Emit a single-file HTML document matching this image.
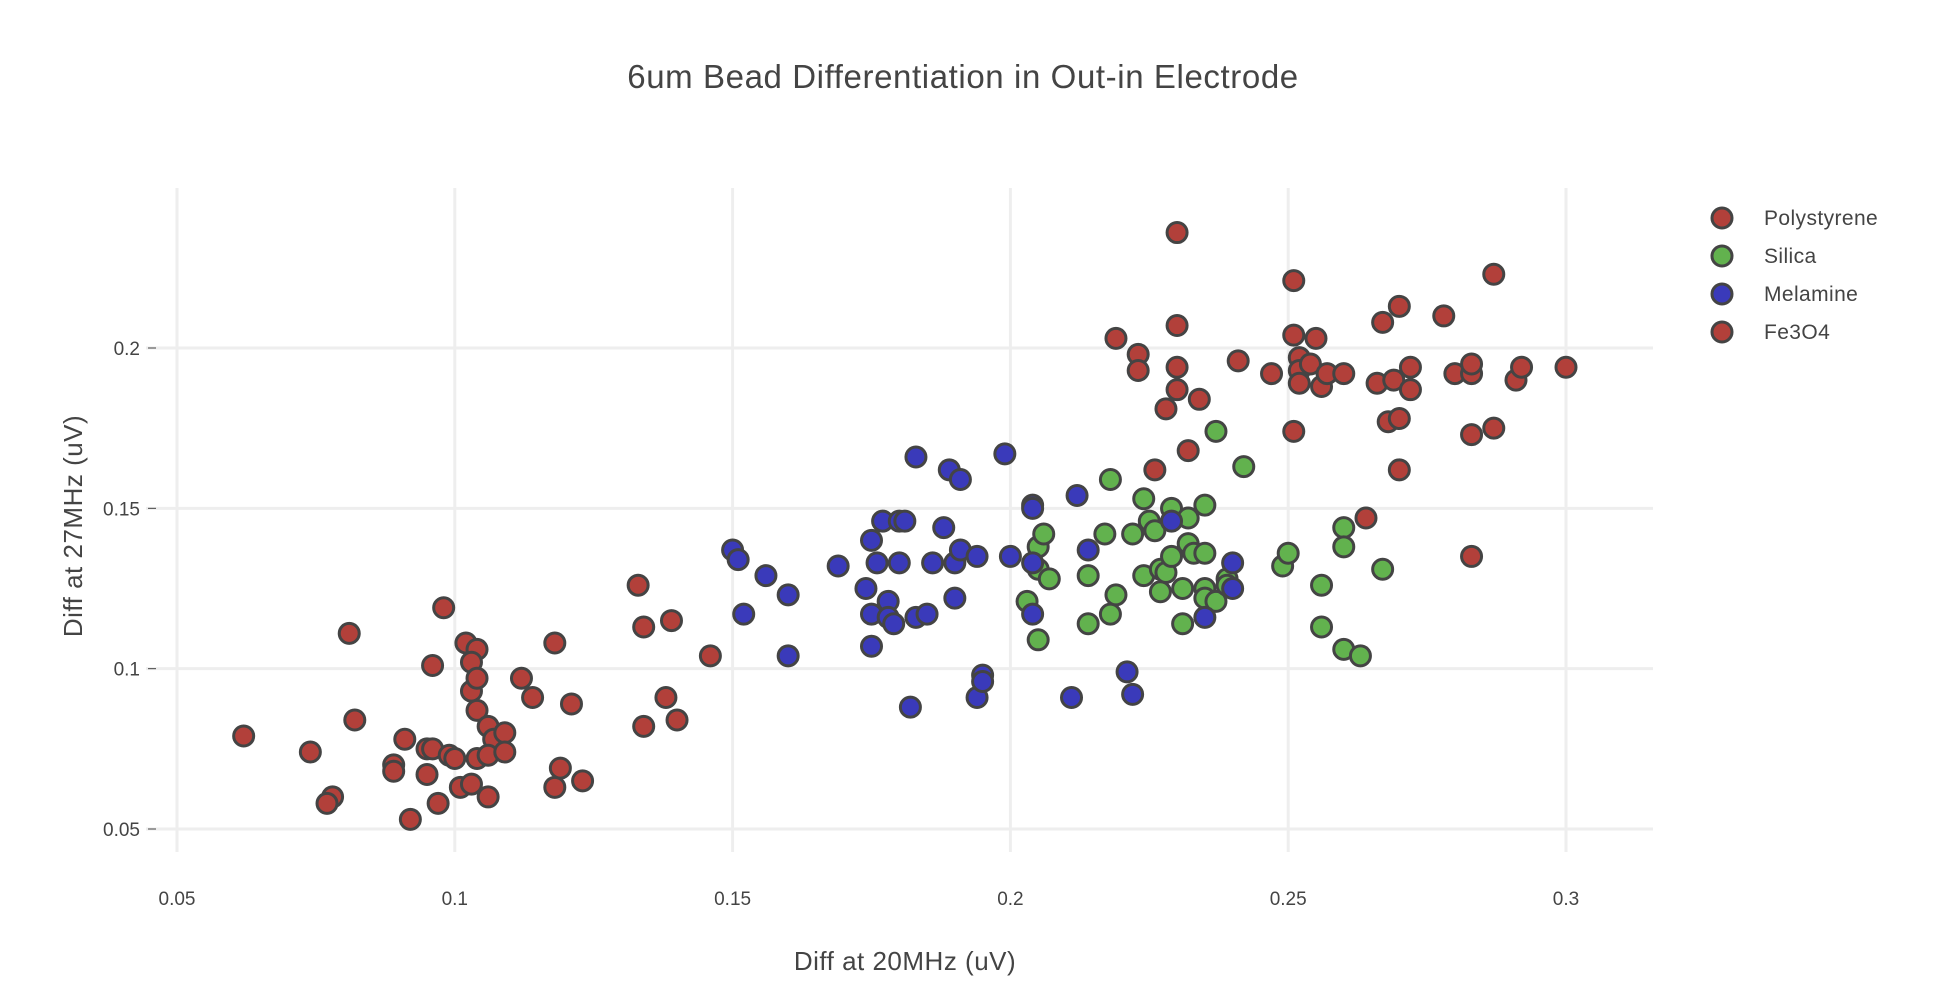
<!DOCTYPE html>
<html><head><meta charset="utf-8"><style>
html,body{margin:0;padding:0;background:#fff;}
svg{display:block;font-family:"Liberation Sans",sans-serif;}
</style></head><body>
<svg id="chart" width="1940" height="1002" viewBox="0 0 1940 1002">
<text x="963" y="88" text-anchor="middle" font-size="33" letter-spacing="0.6" fill="#444">6um Bead Differentiation in Out-in Electrode</text>
<g id="grid"></g>
<g id="points"></g>
<text x="905" y="970" text-anchor="middle" font-size="26" letter-spacing="0.5" fill="#444">Diff at 20MHz (uV)</text>
<text transform="translate(82,526) rotate(-90)" text-anchor="middle" font-size="26" letter-spacing="0.5" fill="#444">Diff at 27MHz (uV)</text>
<g id="legend"></g>
</svg>
<script>
const xTicks=[0.05,0.1,0.15,0.2,0.25,0.3];
const yTicks=[0.05,0.1,0.15,0.2];
const seriesNames=["Polystyrene","Silica","Melamine","Fe3O4"];
const polyX=[0.062,0.074,0.078,0.077,0.081,0.082,0.089,0.089,0.091,0.092,0.095,0.096,0.095,0.096,0.097,0.098,0.099,0.100,0.101,0.102,0.103,0.104,0.103,0.104,0.104,0.103,0.104,0.106,0.107,0.106,0.106,0.109,0.109,0.112,0.114,0.118,0.118,0.119,0.121,0.123,0.133,0.134,0.134,0.138,0.139,0.140,0.146];
const polyY=[0.079,0.074,0.060,0.058,0.111,0.084,0.070,0.068,0.078,0.053,0.075,0.075,0.067,0.101,0.058,0.119,0.073,0.072,0.063,0.108,0.093,0.106,0.102,0.097,0.087,0.064,0.072,0.082,0.078,0.073,0.060,0.080,0.074,0.097,0.091,0.108,0.063,0.069,0.089,0.065,0.126,0.113,0.082,0.091,0.115,0.084,0.104];
const silicaX=[0.203,0.205,0.206,0.205,0.207,0.205,0.214,0.214,0.217,0.218,0.218,0.219,0.222,0.224,0.225,0.224,0.226,0.227,0.227,0.228,0.229,0.229,0.231,0.231,0.232,0.232,0.233,0.235,0.235,0.235,0.235,0.237,0.237,0.239,0.239,0.242,0.249,0.250,0.256,0.256,0.260,0.260,0.260,0.263,0.267];
const silicaY=[0.121,0.138,0.142,0.131,0.128,0.109,0.129,0.114,0.142,0.159,0.117,0.123,0.142,0.153,0.146,0.129,0.143,0.131,0.124,0.130,0.150,0.135,0.125,0.114,0.147,0.139,0.136,0.151,0.136,0.125,0.122,0.121,0.174,0.128,0.126,0.163,0.132,0.136,0.126,0.113,0.144,0.138,0.106,0.104,0.131];
const melX=[0.150,0.151,0.152,0.156,0.160,0.160,0.169,0.174,0.175,0.175,0.175,0.176,0.177,0.178,0.178,0.179,0.180,0.181,0.180,0.182,0.183,0.183,0.185,0.186,0.188,0.189,0.190,0.190,0.191,0.191,0.194,0.194,0.195,0.195,0.199,0.200,0.204,0.204,0.204,0.204,0.211,0.212,0.214,0.221,0.222,0.229,0.235,0.240,0.240];
const melY=[0.137,0.134,0.117,0.129,0.123,0.104,0.132,0.125,0.140,0.117,0.107,0.133,0.146,0.121,0.116,0.114,0.146,0.146,0.133,0.088,0.166,0.116,0.117,0.133,0.144,0.162,0.122,0.133,0.137,0.159,0.135,0.091,0.098,0.096,0.167,0.135,0.151,0.150,0.133,0.117,0.091,0.154,0.137,0.099,0.092,0.146,0.116,0.133,0.125];
const feX=[0.230,0.251,0.287,0.219,0.223,0.230,0.223,0.230,0.230,0.228,0.234,0.232,0.226,0.241,0.247,0.251,0.251,0.252,0.252,0.252,0.254,0.255,0.256,0.257,0.260,0.266,0.267,0.269,0.270,0.272,0.272,0.268,0.270,0.270,0.264,0.278,0.280,0.283,0.283,0.283,0.287,0.283,0.291,0.292,0.300];
const feY=[0.236,0.221,0.223,0.203,0.198,0.207,0.193,0.194,0.187,0.181,0.184,0.168,0.162,0.196,0.192,0.204,0.174,0.197,0.193,0.189,0.195,0.203,0.188,0.192,0.192,0.189,0.208,0.190,0.213,0.194,0.187,0.177,0.178,0.162,0.147,0.210,0.192,0.192,0.195,0.173,0.175,0.135,0.190,0.194,0.194];
const colors=["rgb(178,64,58)","rgb(98,178,78)","rgb(58,58,186)","rgb(178,64,58)"];
const NS="http://www.w3.org/2000/svg";
const X=v=>177+(v-0.05)/0.25*1389;
const Y=v=>829-(v-0.05)/0.15*481;
const grid=document.getElementById('grid');
function mk(tag,attrs,parent){const e=document.createElementNS(NS,tag);for(const k in attrs)e.setAttribute(k,attrs[k]);parent.appendChild(e);return e;}
xTicks.forEach(t=>{
  const l=mk('line',{x1:X(t),x2:X(t),y1:188,y2:852,stroke:'#eee','stroke-width':3},grid);
  
  
  const tx=mk('text',{x:X(t),y:905,'text-anchor':'middle','font-size':19,fill:'#444'},grid);
  tx.textContent=String(t);
  
  
});
yTicks.forEach(t=>{
  const l=mk('line',{x1:146,x2:1653,y1:Y(t),y2:Y(t),stroke:'#eee','stroke-width':3},grid);
  
  
  const tk=mk('line',{x1:148,x2:156,y1:Y(t),y2:Y(t),stroke:'#444','stroke-width':1},grid);
  
  
  const tx=mk('text',{x:140,y:Y(t)+7,'text-anchor':'end','font-size':19,fill:'#444'},grid);
  tx.textContent=String(t);
  
  
});
const pts=document.getElementById('points');
const allX=[polyX,silicaX,melX,feX],allY=[polyY,silicaY,melY,feY];
allX.forEach((xs,s)=>{
  xs.forEach((xv,i)=>{
    const c=mk('circle',{cx:X(xv),cy:Y(allY[s][i]),r:10,fill:colors[s],stroke:'#444','stroke-width':3},pts);
    
    
  });
});
const lg=document.getElementById('legend');
seriesNames.forEach((n,i)=>{
  const y=218+i*38;
  const c=mk('circle',{cx:1722,cy:y,r:10,fill:colors[i],stroke:'#444','stroke-width':3},lg);
  
  
  const t=mk('text',{x:1764,y:y+7,'font-size':21,'letter-spacing':0.4,fill:'#444'},lg);
  t.textContent=n;
  
  
});
</script>
</body></html>
